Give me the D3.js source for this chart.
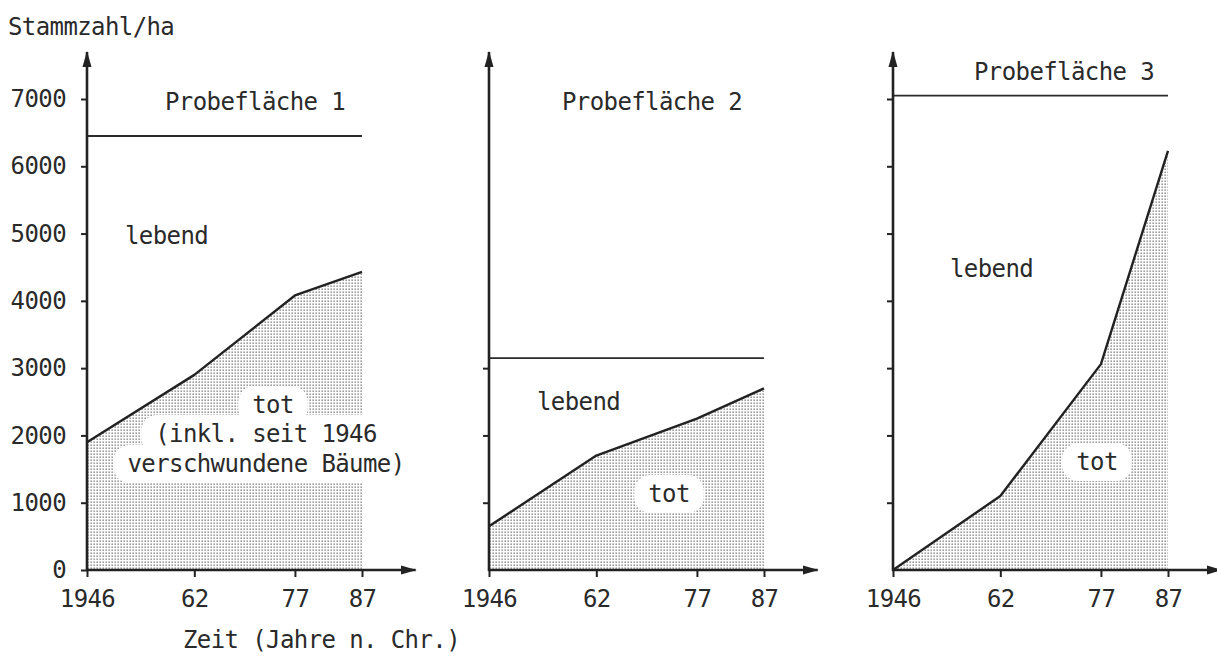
<!DOCTYPE html>
<html>
<head>
<meta charset="utf-8">
<script src="https://cdn.jsdelivr.net/npm/d3@7"></script>
<style>
  html, body { margin: 0; padding: 0; background: #fff; }
  svg { display: block; }
  text { font-family: "DejaVu Sans Mono", "Liberation Mono", monospace; font-size: 24px; letter-spacing: -0.6px; fill: #2a2a2a; }
</style>
</head>
<body>
<svg id="chart" width="1217" height="660"></svg>
<script>
// ---------- data ----------
const years = [1946, 1962, 1977, 1987];
const xTickLabels = ["1946", "62", "77", "87"];
const panelTitles = ["Probefläche 1", "Probefläche 2", "Probefläche 3"];
const totalStems = [6450, 3150, 7050];          // Stammzahl/ha total (horizontal line)
const deadPanel1 = [1900, 2900, 4080, 4430];     // tot, Probefläche 1
const deadPanel2 = [650, 1700, 2250, 2700];      // tot, Probefläche 2
const deadPanel3 = [0, 1100, 3060, 6230];        // tot, Probefläche 3
const yTickValues = [0, 1000, 2000, 3000, 4000, 5000, 6000, 7000];
const panel2Ticks = [1000, 2000, 3000];
const panel3Ticks = [1000, 2000, 3000, 4000, 5000, 6000, 7000];
const yAxisTitle = "Stammzahl/ha";
const xAxisTitle = "Zeit (Jahre n. Chr.)";
const totLabel1 = ["tot", "(inkl. seit 1946", "verschwundene Bäume)"];

// ---------- layout ----------
const svg = d3.select("#chart");
const ink = "#222";
const y = d3.scaleLinear().domain([0, 7000]).range([570, 99]);
const origins = [87, 489, 893];
const plotW = 275;

const defs = svg.append("defs");
const pat = defs.append("pattern").attr("id", "stipple")
  .attr("patternUnits", "userSpaceOnUse").attr("width", 3).attr("height", 3);
pat.append("rect").attr("x", 0.5).attr("y", 0.5).attr("width", 1.3).attr("height", 1.3).attr("fill", "#6a6a6a");

defs.append("marker").attr("id", "arrow")
  .attr("markerUnits", "userSpaceOnUse")
  .attr("viewBox", "0 0 16 10").attr("refX", 15).attr("refY", 5)
  .attr("markerWidth", 16).attr("markerHeight", 10).attr("orient", "auto")
  .append("path").attr("d", "M0,0.5 L16,5 L0,9.5 Z").attr("fill", ink);

const panels = [
  { dead: deadPanel1, total: totalStems[0], ticks: yTickValues, labels: true,
    title: panelTitles[0], titlePos: [78, 110], lebendPos: [38, 244],
    tot: totLabel1, totPos: [[186, 413], [179, 442], [179, 472]] },
  { dead: deadPanel2, total: totalStems[1], ticks: panel2Ticks, labels: false,
    title: panelTitles[1], titlePos: [73, 110], lebendPos: [48, 410],
    tot: ["tot"], totPos: [[180, 502]] },
  { dead: deadPanel3, total: totalStems[2], ticks: panel3Ticks, labels: false,
    title: panelTitles[2], titlePos: [81, 80], lebendPos: [57, 277],
    tot: ["tot"], totPos: [[204, 470]] }
];

panels.forEach((p, i) => {
  const ox = origins[i];
  const x = d3.scaleLinear().domain([1946, 1987]).range([ox, ox + plotW]);
  const g = svg.append("g");
  const pts = years.map((yr, k) => ({ yr, v: p.dead[k] }));

  // stippled "tot" area
  g.append("path").datum(pts)
    .attr("d", d3.area().x(d => x(d.yr)).y0(y(0)).y1(d => y(d.v)))
    .attr("fill", "url(#stipple)");

  // white halos behind the "tot" labels
  const haloG = g.append("g");
  const totTexts = g.append("g");
  p.tot.forEach((t, k) => {
    totTexts.append("text").attr("x", ox + p.totPos[k][0]).attr("y", p.totPos[k][1])
      .attr("text-anchor", "middle").text(t);
  });
  totTexts.selectAll("text").each(function () {
    const b = this.getBBox();
    haloG.append("rect")
      .attr("x", b.x - 14).attr("y", b.y - 5)
      .attr("width", b.width + 28).attr("height", b.height + 10)
      .attr("rx", 16).attr("fill", "#fff");
  });
  totTexts.raise();

  // total (horizontal) line
  g.append("line")
    .attr("x1", x(1946)).attr("x2", x(1987))
    .attr("y1", y(p.total)).attr("y2", y(p.total))
    .attr("stroke", "#2a2a2a").attr("stroke-width", 1.8);

  // dead line
  g.append("path").datum(pts)
    .attr("d", d3.line().x(d => x(d.yr)).y(d => y(d.v)))
    .attr("fill", "none").attr("stroke", ink).attr("stroke-width", 2.4)
    .attr("stroke-linejoin", "round");

  // y axis ticks
  const yAxis = d3.axisLeft(y).tickValues(p.ticks).tickSize(6).tickPadding(15)
    .tickFormat(p.labels ? d3.format("d") : () => "");
  const ya = g.append("g").attr("transform", `translate(${ox},0)`).call(yAxis);
  ya.select(".domain").remove();
  ya.selectAll("line").attr("stroke", ink).attr("stroke-width", 2);
  ya.selectAll("text").attr("font-family", null).attr("font-size", null).attr("fill", null);

  // x axis ticks
  const xAxis = d3.axisBottom(x).tickValues(years).tickSize(7).tickPadding(13)
    .tickFormat((d, k) => xTickLabels[k]);
  const xa = g.append("g").attr("transform", `translate(0,${y(0)})`).call(xAxis);
  xa.select(".domain").remove();
  xa.selectAll("line").attr("stroke", ink).attr("stroke-width", 2);
  xa.selectAll("text").attr("font-family", null).attr("font-size", null).attr("fill", null);

  // axis lines with arrows
  g.append("line").attr("x1", ox).attr("x2", ox).attr("y1", y(0) + 1).attr("y2", y(7700))
    .attr("stroke", ink).attr("stroke-width", 2.6).attr("marker-end", "url(#arrow)");
  g.append("line").attr("x1", ox - 1).attr("x2", x(1995)).attr("y1", y(0)).attr("y2", y(0))
    .attr("stroke", ink).attr("stroke-width", 2.6).attr("marker-end", "url(#arrow)");

  // texts
  g.append("text").attr("x", ox + p.titlePos[0]).attr("y", p.titlePos[1]).text(p.title);
  g.append("text").attr("x", ox + p.lebendPos[0]).attr("y", p.lebendPos[1]).text("lebend");
});

svg.append("text").attr("x", 8).attr("y", 35).text(yAxisTitle);
svg.append("text").attr("x", 183).attr("y", 648).text(xAxisTitle);
</script>
</body>
</html>
